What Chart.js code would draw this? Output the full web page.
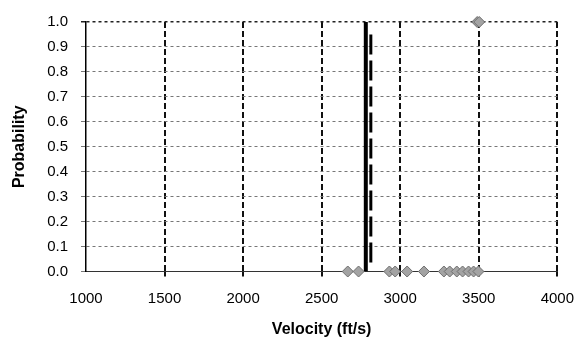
<!DOCTYPE html>
<html>
<head>
<meta charset="utf-8">
<script src="https://cdn.jsdelivr.net/npm/chart.js@4/dist/chart.umd.min.js"></script>
<style>
  html, body { margin: 0; padding: 0; background: #ffffff; }
  #wrap { width: 587px; height: 349px; }
</style>
</head>
<body>
<div id="wrap"><canvas id="c" width="587" height="349"></canvas></div>
<script>
// Observed velocities (ft/s): outcomes at probability 0 and at probability 1
const velocitiesAtZero = [2666, 2735, 2931, 2968, 3044, 3151, 3278, 3315, 3360, 3397, 3435, 3467, 3498];
const velocitiesAtOne = [3490, 3503];

// Reference velocities drawn as vertical lines
const solidLineVelocity = 2781;
const dashedLineVelocity = 2813;
const solidLineRange = [0, 1];
const dashedLineRange = [0.95, 0.03];

// Axis ticks
const xTicks = [1000, 1500, 2000, 2500, 3000, 3500, 4000];
const yTicks = [0, 0.1, 0.2, 0.3, 0.4, 0.5, 0.6, 0.7, 0.8, 0.9, 1.0];

const FONT = "'Liberation Sans', Arial, Helvetica, sans-serif";

const diamond = {
  pointStyle: 'rectRot',
  pointRadius: 5.5,
  pointHoverRadius: 5.5,
  backgroundColor: '#a3a3a3',
  borderColor: '#6e6e6e',
  borderWidth: 1,
  showLine: false,
  clip: false
};

new Chart(document.getElementById('c'), {
  type: 'scatter',
  data: {
    datasets: [
      {
        label: 'solid',
        data: solidLineRange.map(y => ({ x: solidLineVelocity, y })),
        showLine: true,
        borderColor: '#000000',
        borderWidth: 4,
        pointRadius: 0,
        order: 3
      },
      {
        label: 'dashed',
        data: dashedLineRange.map(y => ({ x: dashedLineVelocity, y })),
        showLine: true,
        borderColor: '#000000',
        borderWidth: 3,
        borderDash: [20, 6],
        pointRadius: 0,
        order: 3
      },
      Object.assign({ label: 'p0', data: velocitiesAtZero.map(x => ({ x, y: 0 })), order: 1 }, diamond),
      Object.assign({ label: 'p1', data: velocitiesAtOne.map(x => ({ x, y: 1 })), order: 1 }, diamond)
    ]
  },
  options: {
    responsive: false,
    animation: false,
    events: [],
    layout: { padding: { top: 19, right: 25, left: 0, bottom: 0 } },
    plugins: { legend: { display: false }, tooltip: { enabled: false } },
    scales: {
      x: {
        type: 'linear',
        min: 1000,
        max: 4000,
        afterBuildTicks: s => { s.ticks = xTicks.map(v => ({ value: v })); },
        afterFit: s => { s.height = 77.5; },
        ticks: {
          color: '#000000',
          font: { family: FONT, size: 15 },
          padding: 13,
          maxRotation: 0,
          callback: v => String(v)
        },
        grid: {
          color: ctx => (ctx.tick && ctx.tick.value === 1000) ? 'rgba(0,0,0,0)' : '#111111',
          lineWidth: 2,
          tickLength: 5
        },
        border: { display: true, color: '#333333', width: 1, dash: [6, 3] },
        title: {
          display: true,
          text: 'Velocity (ft/s)',
          color: '#000000',
          font: { family: FONT, size: 16, weight: 'bold' },
          padding: { top: 0, bottom: 10 }
        }
      },
      y: {
        type: 'linear',
        min: 0,
        max: 1,
        afterBuildTicks: s => { s.ticks = yTicks.map(v => ({ value: v })); },
        afterFit: s => { s.width = 86; },
        ticks: {
          color: '#000000',
          font: { family: FONT, size: 15 },
          padding: 13,
          callback: v => Number(v).toFixed(1)
        },
        grid: {
          color: ctx => (ctx.tick && ctx.tick.value === 1) ? '#222222' : '#777777',
          lineWidth: ctx => (ctx.tick && ctx.tick.value === 1) ? 1.5 : 1,
          tickLength: 5
        },
        border: { display: true, color: '#000000', width: 1.5, dash: [3, 3] },
        title: {
          display: true,
          text: 'Probability',
          color: '#000000',
          font: { family: FONT, size: 16, weight: 'bold' },
          padding: { top: 10, bottom: 0 }
        }
      }
    }
  }
});
</script>
</body>
</html>
